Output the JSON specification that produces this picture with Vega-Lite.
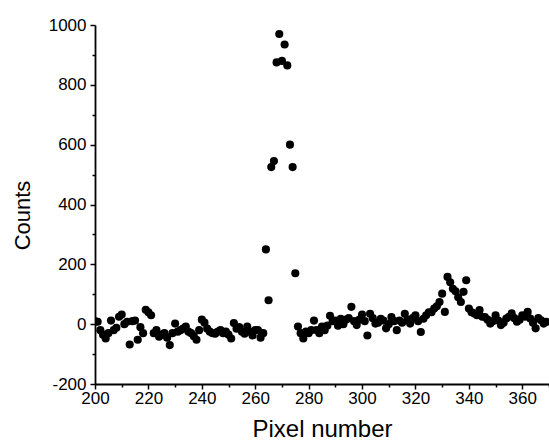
{
  "$schema": "https://vega.github.io/schema/vega-lite/v6.json",
  "autosize": {"type": "none"},
  "padding": {"left": 95, "top": 25, "right": 0, "bottom": 60},
  "width": 454,
  "height": 359,
  "background": "white",
  "config": {
    "view": {"stroke": null},
    "font": "Liberation Sans",
    "axis": {"grid": false, "domainColor": "black", "domainWidth": 1.8, "tickColor": "black", "tickWidth": 1.5, "labelColor": "black", "titleColor": "black", "labelFont": "Liberation Sans", "titleFont": "Liberation Sans", "titleFontWeight": "normal", "labelFontSize": 17, "titleFontSize": 22}
  },
  "data": {"values": [
    {"px":200,"c":10},{"px":201,"c":8},{"px":202,"c":-20},{"px":203,"c":-35},{"px":204,"c":-48},{"px":205,"c":-30},{"px":206,"c":12},{"px":207,"c":-20},{"px":208,"c":-12},{"px":209,"c":25},
    {"px":210,"c":32},{"px":211,"c":0},{"px":212,"c":8},{"px":213,"c":-68},{"px":214,"c":10},{"px":215,"c":12},{"px":216,"c":-52},{"px":217,"c":-10},{"px":218,"c":-30},{"px":219,"c":48},
    {"px":220,"c":40},{"px":221,"c":30},{"px":222,"c":-30},{"px":223,"c":-20},{"px":224,"c":-42},{"px":225,"c":-35},{"px":226,"c":-30},{"px":227,"c":-45},{"px":228,"c":-70},{"px":229,"c":-30},
    {"px":230,"c":2},{"px":231,"c":-25},{"px":232,"c":-20},{"px":233,"c":-15},{"px":234,"c":-8},{"px":235,"c":-25},{"px":236,"c":-30},{"px":237,"c":-40},{"px":238,"c":-52},{"px":239,"c":-20},
    {"px":240,"c":15},{"px":241,"c":5},{"px":242,"c":-15},{"px":243,"c":-25},{"px":244,"c":-30},{"px":245,"c":-32},{"px":246,"c":-25},{"px":247,"c":-20},{"px":248,"c":-30},{"px":249,"c":-25},
    {"px":250,"c":-35},{"px":251,"c":-48},{"px":252,"c":4},{"px":253,"c":-15},{"px":254,"c":-10},{"px":255,"c":-25},{"px":256,"c":-32},{"px":257,"c":-8},{"px":258,"c":-25},{"px":259,"c":-38},
    {"px":260,"c":-20},{"px":261,"c":-20},{"px":262,"c":-45},{"px":263,"c":-30},{"px":264,"c":250},{"px":265,"c":80},{"px":266,"c":525},{"px":267,"c":545},{"px":268,"c":875},{"px":269,"c":970},
    {"px":270,"c":880},{"px":271,"c":935},{"px":272,"c":865},{"px":273,"c":600},{"px":274,"c":525},{"px":275,"c":170},{"px":276,"c":-8},{"px":277,"c":-30},{"px":278,"c":-48},{"px":279,"c":-25},
    {"px":280,"c":-30},{"px":281,"c":-20},{"px":282,"c":12},{"px":283,"c":-20},{"px":284,"c":-30},{"px":285,"c":-8},{"px":286,"c":-20},{"px":287,"c":-5},{"px":288,"c":28},{"px":289,"c":10},
    {"px":290,"c":12},{"px":291,"c":-5},{"px":292,"c":18},{"px":293,"c":0},{"px":294,"c":15},{"px":295,"c":20},{"px":296,"c":58},{"px":297,"c":10},{"px":298,"c":-3},{"px":299,"c":15},
    {"px":300,"c":32},{"px":301,"c":10},{"px":302,"c":-38},{"px":303,"c":35},{"px":304,"c":20},{"px":305,"c":2},{"px":306,"c":5},{"px":307,"c":18},{"px":308,"c":12},{"px":309,"c":-14},
    {"px":310,"c":0},{"px":311,"c":24},{"px":312,"c":10},{"px":313,"c":-20},{"px":314,"c":12},{"px":315,"c":5},{"px":316,"c":35},{"px":317,"c":15},{"px":318,"c":2},{"px":319,"c":20},
    {"px":320,"c":30},{"px":321,"c":10},{"px":322,"c":-26},{"px":323,"c":18},{"px":324,"c":30},{"px":325,"c":40},{"px":326,"c":40},{"px":327,"c":52},{"px":328,"c":60},{"px":329,"c":74},
    {"px":330,"c":102},{"px":331,"c":41},{"px":332,"c":158},{"px":333,"c":140},{"px":334,"c":118},{"px":335,"c":110},{"px":336,"c":90},{"px":337,"c":74},{"px":338,"c":108},{"px":339,"c":147},
    {"px":340,"c":52},{"px":341,"c":40},{"px":342,"c":36},{"px":343,"c":30},{"px":344,"c":47},{"px":345,"c":25},{"px":346,"c":24},{"px":347,"c":15},{"px":348,"c":2},{"px":349,"c":10},
    {"px":350,"c":30},{"px":351,"c":12},{"px":352,"c":-3},{"px":353,"c":5},{"px":354,"c":19},{"px":355,"c":25},{"px":356,"c":36},{"px":357,"c":20},{"px":358,"c":8},{"px":359,"c":15},
    {"px":360,"c":30},{"px":361,"c":25},{"px":362,"c":41},{"px":363,"c":19},{"px":364,"c":5},{"px":365,"c":-14},{"px":366,"c":20},{"px":367,"c":13},{"px":368,"c":2},{"px":369,"c":8}
  ]},
  "mark": {"type": "circle", "color": "black", "opacity": 1, "size": 66, "clip": true},
  "encoding": {
    "x": {"field": "px", "type": "quantitative", "title": "Pixel number",
      "scale": {"domain": [200, 370], "nice": false, "zero": false},
      "axis": {"values": [200,210,220,230,240,250,260,270,280,290,300,310,320,330,340,350,360,370],
        "labelExpr": "datum.value % 20 === 0 ? datum.value : ''",
        "tickSize": {"condition": {"test": "datum.value % 20 === 0", "value": 5}, "value": 3},
        "labelPadding": 1, "titlePadding": 11, "titleFontSize": 24, "labelFlush": false, "labelOverlap": false}},
    "y": {"field": "c", "type": "quantitative", "title": "Counts",
      "scale": {"domain": [-200, 1000], "nice": false, "zero": false},
      "axis": {"values": [-200,-100,0,100,200,300,400,500,600,700,800,900,1000],
        "labelExpr": "datum.value % 200 === 0 ? datum.value : ''",
        "tickSize": {"condition": {"test": "datum.value % 200 === 0", "value": 5}, "value": 3},
        "labelPadding": 4, "titlePadding": 14, "titleY": 190, "labelFlush": false, "labelOverlap": false}}
  }
}
